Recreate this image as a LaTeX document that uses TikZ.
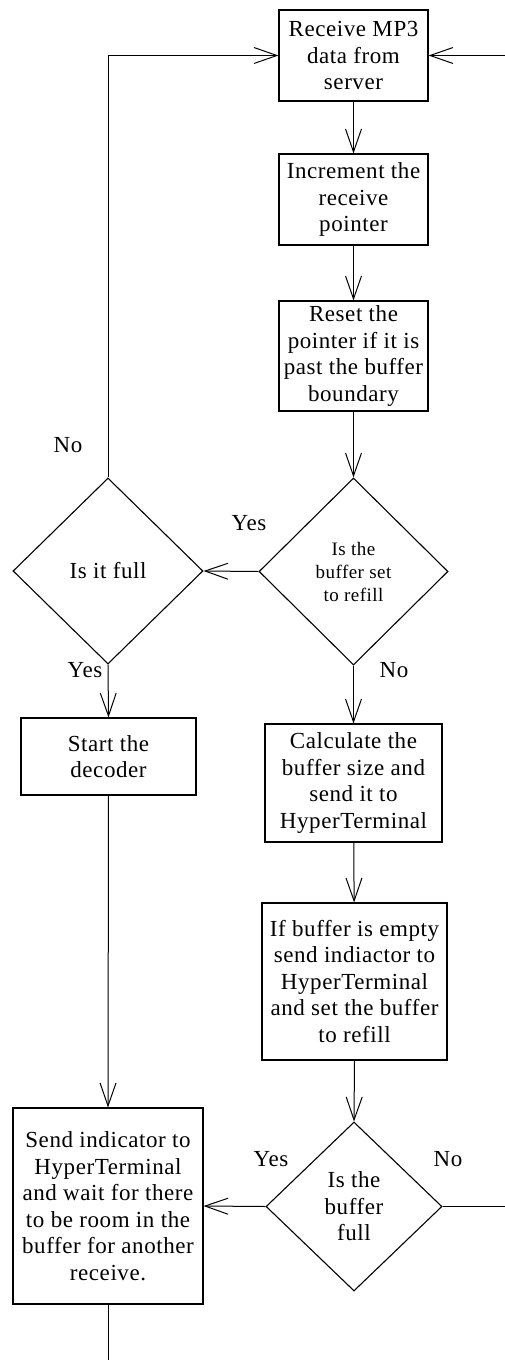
\documentclass[tikz,border=0pt]{standalone}
\usepackage{fontspec}
\setmainfont[LetterSpace=2.5]{Liberation Serif}
\usetikzlibrary{shapes.geometric,arrows.meta}
\begin{document}
\begin{tikzpicture}[x=1pt,y=-1pt,
  every node/.style={font={\fontsize{23}{26.5}\selectfont}},
  procbox/.style={draw,line width=1.1pt,align=center,inner sep=0pt},
  decision/.style={draw,diamond,line width=1.1pt,align=center,inner sep=0pt},
  flow/.style={line width=1pt,-{Straight Barb[length=23pt,width=16pt,line width=1pt]}},
  plain/.style={line width=1pt},
  lbl/.style={inner sep=0pt}]
\useasboundingbox (0,0) rectangle (505,1360);

% process boxes
\node[procbox,minimum width=149pt,minimum height=91pt] (recv) at (353.5,55.5)
  {Receive MP3\\data from\\server};
\node[procbox,minimum width=149pt,minimum height=91pt] (incr) at (353.5,199.5)
  {Increment the\\receive\\pointer};
\node[procbox,minimum width=149pt,minimum height=110pt] (reset) at (353.5,356)
  {Reset the\\pointer if it is\\past the buffer\\boundary};
\node[decision,minimum width=189pt,minimum height=187pt,
  font={\fontsize{19}{23}\selectfont}] (refill) at (353.5,571.5)
  {Is the\\buffer set\\to refill};
\node[decision,minimum width=190pt,minimum height=186pt] (full) at (108,571)
  {Is it full};
\node[procbox,minimum width=175pt,minimum height=77pt] (start) at (108.5,756.5)
  {Start the\\decoder};
\node[procbox,minimum width=177pt,minimum height=118pt] (calc) at (353.5,783)
  {Calculate the\\buffer size and\\send it to\\HyperTerminal};
\node[procbox,minimum width=185pt,minimum height=157pt] (empty) at (354.5,981.5)
  {If buffer is empty\\send indiactor to\\HyperTerminal\\and set the buffer\\to refill};
\node[decision,minimum width=176pt,minimum height=169pt] (bfull) at (354,1206.5)
  {Is the\\buffer\\full};
\node[procbox,minimum width=190pt,minimum height=196pt] (wait) at (108,1206)
  {Send indicator to\\HyperTerminal\\and wait for there\\to be room in the\\buffer for another\\receive.};

% branch labels
\node[lbl] (noLoop) at (68,445) {No};
\node[lbl] (yesRefill) at (249,523) {Yes};
\node[lbl] (yesFull) at (85,670) {Yes};
\node[lbl] (noRefill) at (394,670) {No};
\node[lbl] (yesBfull) at (271,1159) {Yes};
\node[lbl] (noBfull) at (448,1159) {No};

% loose ends at the page edges
\coordinate (rightTop) at (505,55.5);
\coordinate (rightBot) at (505,1206.5);
\coordinate (bottomEnd) at (108,1360);

% connectors
\draw[flow] (recv) -- (incr);
\draw[flow] (incr) -- (reset);
\draw[flow] (reset) -- (refill);
\draw[flow] (refill.west) -- (full.east);
\draw[flow] (full.north) |- (recv.west);
\draw[flow] (full.south) -- (start.north);
\draw[flow] (refill.south) -- (calc.north);
\draw[flow] (calc) -- (empty);
\draw[flow] (empty.south) -- (bfull.north);
\draw[flow] (bfull.west) -- (wait.east);
\draw[plain] (bfull.east) -- (rightBot);
\draw[flow] (rightTop) -- (recv.east);
\draw[flow] (start.south) -- (wait.north);
\draw[plain] (wait.south) -- (bottomEnd);
\end{tikzpicture}
\end{document}
